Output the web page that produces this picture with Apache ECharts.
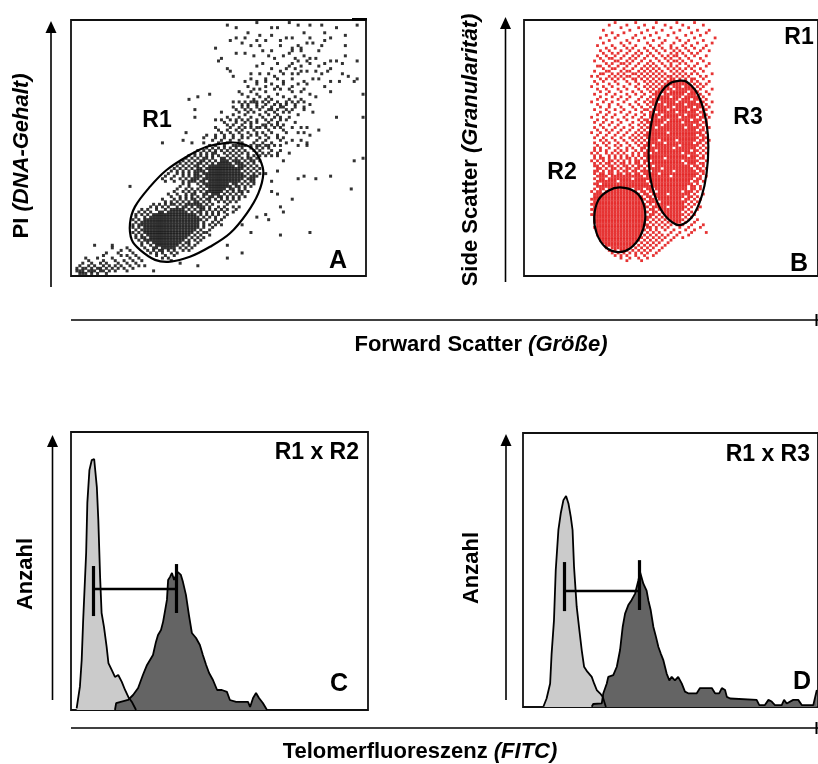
<!DOCTYPE html>
<html>
<head>
<meta charset="utf-8">
<script src="https://cdn.jsdelivr.net/npm/echarts@6/dist/echarts.min.js"></script>
<style>
  html, body { margin: 0; padding: 0; background: #fff; }
  #chart { width: 818px; height: 764px; }
</style>
</head>
<body>
<div id="chart"></div>
<script>
// ---------- Data ----------
// Dot plots: events listed row by row as [channel y, "channel x values"] on a 0-100 channel scale.

// A: PI (DNA content) vs forward scatter
const dotRowsA = [
  [99, "63 74"],
  [98, "53 77 81 85 97"],
  [97, "56 68 70 90"],
  [95, "60 79 86"],
  [94, "64 68 93"],
  [93, "56 59 73 75 81 88"],
  [92, "54 63 66 71 86"],
  [91, "58 80 82"],
  [90, "61 64 71 77 85 93"],
  [89, "49 75 78"],
  [88, "65 68 75 78 84"],
  [87, "56 59 74"],
  [86, "62 67 72 79 93"],
  [85, "51 69 76 81 83"],
  [84, "50 77 80 88 90 97"],
  [83, "65 70 75 81 86 92"],
  [82, "63 74 78 84"],
  [81, "53 68 73 76 88"],
  [80, "54 71 78 80 83 87"],
  [79, "61 64 67 72 75 77 85 92"],
  [78, "55 69 94"],
  [77, "61 66 70 75 82 84 97"],
  [76, "59 63 66 72 79 88 91 96"],
  [75, "63 68 72 77 80"],
  [74, "60 66 70 75 86"],
  [73, "62 64 69 71 74 79"],
  [72, "57 61 66 75 78 88"],
  [71, "47 58 63 70 81 99"],
  [70, "43 60 64 67 72 76 83"],
  [69, "40 62 66 68 74 78"],
  [68, "55 57 59 61 62 63 65 67 70 73 75 77 79"],
  [67, "58 60 63 66 69 71 73 76 81"],
  [66, "55 58 60 63 65 68 71 72 76 79"],
  [65, "42 56 59 61 64 67 68 70 73 75 79"],
  [64, "51 57 60 62 66 69 72 74 82"],
  [63, "55 59 64 67 70 77"],
  [62, "42 53 57 61 65 69 71 74 90 99"],
  [61, "49 51 54 56 58 60 63 66 68 71 73"],
  [60, "52 56 59 61 63 67 70 76"],
  [59, "53 55 58 61 65 66 68 70 72"],
  [58, "49 54 57 59 61 63 64 66 69 71 75 78 80"],
  [57, "50 53 56 58 62 67 72 84"],
  [56, "39 51 54 57 60 63 65 68 73 77 79"],
  [55, "46 49 52 55 58 61 63 66 70 81"],
  [54, "45 49 52 55 58 60 64 67 70 72"],
  [53, "38 48 51 54 57 63 66 71 75 78"],
  [52, "31 41 45 50 53 58 62 65 68 73 80"],
  [51, "47 49 52 55 56 57 58 59 61 63 64 66 67 69 71 77 80"],
  [50, "46 48 50 52 54 56 58 61 63 65 67"],
  [49, "43 45 47 49 51 53 55 57 59 62 64 68 71"],
  [48, "42 44 46 48 49 52 54 56 58 60 63 65 67 70 74"],
  [47, "40 42 44 46 48 50 53 55 57 60 62 64 66 68 70"],
  [46, "39 41 43 45 46 48 51 52 54 56 58 60 61 63 99"],
  [45, "38 40 42 44 45 47 49 51 52 53 55 56 57 59 61 62 64 72 96"],
  [44, "37 39 41 43 44 46 48 50 51 52 53 54 56 57 58 60 62"],
  [43, "36 38 40 42 43 45 47 48 49 50 51 52 53 54 55 57 58 59 61 63"],
  [42, "35 37 39 41 43 44 46 47 48 49 50 51 52 53 54 55 56 57 58 60 62 64"],
  [41, "34 36 38 40 42 43 44 45 47 48 49 50 51 52 53 54 55 56 57 59 61 63 70"],
  [40, "33 36 38 40 42 43 45 46 47 48 49 50 51 52 53 54 55 56 57 58 60 62 64 66"],
  [39, "32 35 38 40 42 43 44 46 47 48 49 50 51 52 53 54 55 56 57 58 59 61 62 63 79 88"],
  [38, "31 34 37 39 41 42 43 45 46 47 48 49 50 51 52 53 54 55 56 57 58 60 61 62 77 83"],
  [37, "32 35 38 40 41 42 44 45 47 48 49 50 51 52 53 54 55 56 57 59 61 62 68"],
  [36, "38 40 43 45 46 47 48 49 50 51 52 53 55 56 58 60 62"],
  [35, "20 37 40 44 46 47 48 49 50 51 52 53 54 56 57 59 61"],
  [34, "36 39 41 43 45 47 48 49 50 51 52 54 55 57 59 95"],
  [33, "35 38 40 42 44 46 47 48 49 50 51 53 55 57 58 60 68"],
  [32, "33 36 39 41 42 45 46 48 49 50 52 54 56 58 70"],
  [31, "34 37 39 41 43 45 47 48 50 51 53 55 57 59"],
  [30, "31 35 37 39 41 42 44 46 47 49 51 53 55 57 75"],
  [29, "32 34 36 38 40 42 43 45 47 50 52 54 56"],
  [28, "28 30 32 34 35 37 39 40 41 42 43 44 46 48 53"],
  [27, "27 29 31 33 36 38 39 41 43 44 45 47 50 52 55 57 71"],
  [26, "24 26 29 32 34 35 36 37 38 40 42 44 45 47 49 51 53 56"],
  [25, "23 25 27 30 31 33 34 35 36 37 38 39 41 43 44 46 48 50 52 55 72"],
  [24, "22 24 26 28 29 30 31 32 33 34 35 36 37 38 39 40 41 42 44 46 48 50 53 66"],
  [23, "22 25 27 28 29 30 31 32 33 34 35 36 37 38 39 40 41 42 43 45 47 49 52 63"],
  [22, "21 23 25 26 27 28 29 30 31 32 33 34 35 36 37 38 39 40 41 42 43 44 46 49 51 67"],
  [21, "22 24 25 26 27 28 29 30 31 32 33 34 35 36 37 38 39 40 41 42 43 45 48 50"],
  [20, "21 23 24 25 26 27 28 29 30 31 32 33 34 35 36 37 38 39 40 41 42 43 45 47 49 51 58"],
  [19, "21 23 25 26 27 28 29 30 31 32 33 34 35 36 37 38 39 40 41 42 43 45 48"],
  [18, "22 24 25 26 27 28 29 30 31 32 33 34 35 36 37 38 39 40 41 42 44 47"],
  [17, "21 23 25 26 27 28 29 30 31 32 33 34 35 36 37 38 39 40 41 43 45 46 61 81"],
  [16, "22 24 26 27 28 29 30 31 32 33 34 35 36 37 38 39 40 42 44 47 71"],
  [15, "22 24 25 27 28 29 30 31 32 33 34 35 36 37 38 39 41 43 45"],
  [14, "23 25 26 27 28 29 30 31 32 33 34 35 36 37 38 40 42 44"],
  [13, "24 26 28 29 30 31 32 33 34 35 36 37 39 40 43"],
  [12, "8 14 24 27 29 30 31 32 33 34 35 36 38 40 42 53"],
  [11, "14 19 25 28 29 31 32 33 34 35 37 39 41"],
  [10, "17 20 26 28 30 31 33 35 38 40"],
  [9, "12 16 21 27 29 31 34 36 58"],
  [8, "11 17 19 22 29 32 35"],
  [7, "5 9 14 20 23 31 33 53"],
  [6, "6 11 15 18 21 24 34"],
  [5, "4 7 10 12 16 19 22 37"],
  [4, "3 6 8 11 13 15 17 20 23 25 43"],
  [3, "2 4 5 7 9 10 12 14 16 18 21"],
  [2, "2 3 4 6 7 8 10 11 13 15 19 28"],
  [1, "3 4 5 7 9 12"]
];

// B: side scatter vs forward scatter of the R1 events
const dotRowsB = [
  [99, "31 38 45 52 58"],
  [98, "29 35 41 48 54 61"],
  [97, "33 39 44 50 56"],
  [96, "27 36 42 47 53 59 63"],
  [95, "30 34 40 45 51 57 62"],
  [94, "28 32 38 43 49 55 60"],
  [93, "26 31 37 41 46 52 58 65"],
  [92, "29 35 39 44 48 53 56 61"],
  [91, "27 33 36 42 47 51 55 59 64"],
  [90, "25 30 34 38 43 46 50 54 57 62"],
  [89, "28 31 35 37 41 44 47 50 52 55 58 61"],
  [88, "26 29 33 36 39 42 45 48 51 53 56 60 63"],
  [87, "27 30 32 35 38 40 43 46 50 52 54 57 59"],
  [86, "25 28 31 34 37 39 42 44 47 49 51 52 55 58 62"],
  [85, "26 29 30 33 36 38 41 45 48 50 53 56 60"],
  [84, "24 27 31 32 35 37 40 43 46 49 51 52 54 57 61"],
  [83, "28 30 33 34 36 39 42 44 47 50 53 55 59 63"],
  [82, "25 26 29 32 35 38 41 43 45 48 50 52 56 58 62"],
  [81, "27 30 31 34 37 40 42 44 46 49 51 53 55 57 60"],
  [80, "24 28 29 33 35 36 39 41 43 45 47 50 52 54 58 61"],
  [79, "26 27 30 32 34 37 38 40 42 44 46 48 51 53 55 57 59 64"],
  [78, "23 25 29 31 33 35 36 39 41 43 45 47 49 50 52 54 56 60 62"],
  [77, "26 28 30 32 34 37 38 40 42 44 46 48 50 51 53 55 57 58 61"],
  [76, "24 27 31 35 38 41 43 45 47 49 50 51 52 53 54 55 57 59 63"],
  [75, "25 29 32 36 39 42 44 46 48 49 50 51 52 53 54 55 56 58 60 62"],
  [74, "23 27 30 34 38 41 43 45 47 48 49 51 52 53 55 56 57 59 61"],
  [73, "25 28 32 35 39 42 44 46 47 48 49 50 52 53 54 55 56 57 58 60 64"],
  [72, "26 29 33 37 40 43 45 46 47 48 50 51 52 53 54 55 57 58 59 62"],
  [71, "24 28 31 35 38 41 44 45 46 48 49 50 51 52 53 54 56 57 58 60 63"],
  [70, "26 30 33 36 40 43 45 46 47 48 49 51 52 53 55 56 57 58 59 61"],
  [69, "25 28 32 35 39 42 44 45 46 47 48 49 50 51 52 54 55 56 58 59 60 62"],
  [68, "23 27 30 34 38 41 43 44 45 47 48 49 50 51 53 54 55 56 57 58 60 61 64"],
  [67, "25 29 32 36 39 42 44 45 46 47 49 50 51 52 53 54 56 57 58 59 60 62"],
  [66, "26 29 33 37 40 43 45 46 47 48 49 50 52 53 54 55 56 57 59 60 61 63"],
  [65, "24 28 31 34 38 41 42 44 45 46 47 48 50 51 52 53 54 55 57 58 59 61 62"],
  [64, "26 29 33 36 40 43 44 46 47 48 49 50 51 53 54 55 56 57 58 60 61 64"],
  [63, "25 28 31 35 38 41 43 44 45 46 48 49 50 51 52 53 54 56 57 58 59 61 62"],
  [62, "23 27 30 34 37 40 43 44 45 47 48 49 50 51 52 54 55 56 57 58 60 61 63"],
  [61, "25 28 32 35 39 41 42 44 45 46 47 48 50 51 52 53 54 55 56 58 59 60 62"],
  [60, "24 27 30 33 37 40 42 43 44 45 46 47 49 50 51 52 53 55 56 57 58 59 61 62"],
  [59, "26 29 32 36 39 41 43 44 45 46 48 49 50 51 52 53 54 55 56 57 59 60 62"],
  [58, "24 27 31 34 37 40 42 43 44 46 47 48 49 50 51 52 53 54 56 57 58 59 61 63"],
  [57, "25 28 30 33 36 39 41 43 44 45 46 47 48 49 50 51 52 53 54 55 56 57 58 60 61"],
  [56, "23 26 29 32 35 38 40 42 43 44 45 46 47 48 50 51 52 53 54 55 56 57 58 59 60 62"],
  [55, "25 28 31 34 37 39 41 42 43 44 45 46 47 48 49 50 51 52 53 54 55 56 57 58 60 61"],
  [54, "24 27 30 33 36 38 40 42 43 44 45 46 47 48 49 50 51 52 53 54 55 56 57 58 59 61 62"],
  [53, "26 28 31 34 37 39 41 43 44 45 47 48 49 50 51 53 54 55 56 57 58 60 61 63"],
  [52, "24 27 29 32 35 38 40 42 43 44 45 46 47 49 50 51 52 53 54 55 56 57 59 60 62"],
  [51, "25 28 31 33 36 39 41 42 43 45 46 47 48 49 50 51 52 54 55 56 57 58 59 61"],
  [50, "24 26 29 32 35 37 40 41 43 44 45 46 47 48 49 50 52 53 54 55 56 57 58 60 62"],
  [49, "24 26 28 31 33 35 38 40 42 43 44 46 47 48 49 50 51 52 53 54 55 56 58 59 61"],
  [48, "23 25 28 30 32 34 37 39 41 42 44 45 46 47 48 49 50 51 52 53 55 56 57 58 60 62"],
  [47, "24 26 29 31 33 35 37 39 41 42 43 44 45 46 47 48 49 50 51 52 53 54 55 57 58 59 61"],
  [46, "24 26 27 29 31 33 35 36 38 40 42 43 44 45 46 47 49 50 51 52 53 54 55 56 57 58 60 61"],
  [45, "23 25 27 29 30 32 34 36 38 39 41 42 44 45 46 47 48 49 50 51 52 53 55 56 57 58 59 62"],
  [44, "24 26 28 29 31 33 34 36 38 39 41 43 44 45 46 47 48 49 50 51 52 53 54 56 57 58 60 61"],
  [43, "24 25 27 29 30 32 34 35 37 39 40 42 43 45 46 47 48 49 50 51 52 53 54 55 56 58 59 61"],
  [42, "25 26 28 30 31 33 35 36 38 39 41 43 44 45 46 48 49 50 51 52 53 54 55 56 57 59 60 62"],
  [41, "24 25 27 29 30 32 34 35 37 38 40 41 42 44 45 46 47 48 49 50 52 53 54 55 56 57 58 60 61"],
  [40, "24 26 27 29 30 32 33 35 36 38 39 41 42 43 44 45 47 48 49 50 51 52 53 54 55 56 57 58 59 61"],
  [39, "25 26 27 28 30 31 32 33 34 35 36 37 38 39 40 42 43 44 45 46 47 48 49 51 52 53 54 55 56 57 58 60 62"],
  [38, "24 26 27 29 30 31 32 33 34 35 36 38 39 40 41 42 43 44 45 46 47 48 49 50 51 52 53 54 55 56 57 59 60"],
  [37, "25 26 27 28 29 30 31 33 34 35 36 37 38 39 40 41 43 44 45 46 47 48 49 50 51 52 53 54 55 56 58 59 61"],
  [36, "24 25 27 28 29 30 31 32 33 34 35 36 37 38 39 40 41 42 44 45 46 47 48 49 50 51 52 53 54 55 56 57 59"],
  [35, "25 26 27 28 29 30 31 32 33 34 35 36 37 38 39 40 41 42 43 44 45 46 47 48 49 50 51 52 53 54 55 57 58 60"],
  [34, "24 26 27 29 30 31 32 33 34 35 36 38 39 40 42 43 45 46 47 48 49 50 51 52 53 54 55 57 58 60"],
  [33, "23 25 26 28 29 30 31 32 33 34 35 36 37 38 40 41 43 44 46 47 48 49 50 51 52 53 55 56 57 59"],
  [32, "24 25 26 27 28 29 30 31 32 33 34 35 36 37 38 39 41 42 44 45 46 47 48 50 51 52 53 54 55 56 58 61"],
  [31, "24 25 26 27 28 29 30 31 32 33 34 35 36 37 38 39 40 42 43 45 46 47 48 49 50 51 52 53 54 56 57 59"],
  [30, "23 24 25 26 27 28 29 30 31 32 33 34 35 36 37 38 39 40 41 43 44 46 47 48 49 50 51 52 53 55 56 58 60"],
  [29, "24 25 26 27 28 29 30 31 32 33 34 35 36 37 38 39 40 42 43 44 45 47 48 49 50 51 52 53 54 55 57 59"],
  [28, "23 24 25 26 27 28 29 30 31 32 33 34 35 36 37 38 39 40 41 43 45 46 47 48 49 50 51 52 53 54 56 58"],
  [27, "24 25 26 27 28 29 30 31 32 33 34 35 36 37 38 39 40 41 42 44 45 46 47 48 50 51 52 53 54 55 57 60"],
  [26, "23 24 25 26 27 28 29 30 31 32 33 34 35 36 37 38 39 40 41 43 44 46 47 48 49 50 51 52 53 54 56 59"],
  [25, "24 25 26 27 28 29 30 31 32 33 34 35 36 37 38 39 40 41 42 44 45 47 48 49 50 51 52 53 55 57"],
  [24, "23 24 25 26 27 28 29 30 31 32 33 34 35 36 37 38 39 40 41 43 44 46 48 49 50 51 52 53 54 56 58"],
  [23, "24 25 26 27 28 29 30 31 32 33 34 35 36 37 38 39 40 41 42 43 45 47 49 50 51 52 53 55 57"],
  [22, "24 25 26 27 28 29 30 31 32 33 34 35 36 37 38 39 40 41 42 44 46 48 50 51 52 53 54 56 59"],
  [21, "24 25 26 27 28 29 30 31 32 33 34 35 36 37 38 39 40 41 43 45 47 49 51 52 53 55 58"],
  [20, "25 26 27 28 29 30 31 32 33 34 35 36 37 38 39 40 41 42 44 46 48 50 52 54 57 61"],
  [19, "24 25 26 27 28 29 30 31 32 33 34 35 36 37 38 39 40 42 43 45 47 49 53 56 60"],
  [18, "25 26 27 28 29 30 31 32 33 34 35 36 37 38 39 40 41 43 45 48 51 55 58"],
  [17, "25 26 27 28 29 30 31 32 33 34 35 36 37 38 39 40 42 44 46 50 53 57 62"],
  [16, "25 26 27 28 29 30 31 32 33 34 35 36 37 38 39 41 43 45 47 49 52 56"],
  [15, "26 27 28 29 30 31 32 33 34 35 36 37 38 39 40 42 44 46 48 51 54"],
  [14, "26 27 28 29 30 31 32 33 34 35 36 37 38 39 41 43 45 47 50"],
  [13, "27 28 29 30 31 32 33 34 35 36 37 38 40 42 44 46 49"],
  [12, "28 29 30 31 32 33 34 35 36 37 39 41 43 45 48"],
  [11, "28 30 31 32 33 34 35 36 38 40 42 44 47"],
  [10, "29 31 33 34 35 37 39 41 43 46"],
  [9, "30 32 34 36 38 40 42 45"],
  [8, "31 33 35 38 41 44"],
  [7, "33 36 39 42"],
  [6, "35 40"]
];

// Gate outlines (vertices in channel units)
const gateR1 = [[53.9,52.1],[46,50.5],[39.2,46.6],[32.4,41.4],[26.8,34.9],[21.7,27.1],[20,20.6],[20.6,14.1],
  [23.4,10.2],[28.5,6.3],[33.6,5.6],[40.3,7.5],[47.1,11.4],[53.9,16.7],[59.6,24.5],[63.5,32.3],[65.2,40.1],
  [64.1,45.3],[61.3,49.9],[57.3,51.8]];
const gateR2 = [[32.7,34.6],[28.7,33.3],[25.3,29.7],[23.9,23.2],[24.7,16.7],[27.6,11.4],[32.1,9.3],
  [36.1,10.8],[39.5,15.4],[41.2,21.9],[40.6,28.4],[37.8,32.9]];
const gateR3 = [[53.1,76.3],[49.7,75.3],[46.8,72],[44.6,66.1],[43.1,58.3],[42.4,49.2],[42.9,38.8],[44.6,31],
  [47.4,24.5],[51.4,20.3],[54.2,20.3],[57.6,23.8],[60.4,31],[62.1,40.1],[62.7,50.5],[62.1,59.6],[60.4,67.5],
  [58.2,72.7],[55.3,75.9]];

// Telomere fluorescence histograms: [channel, relative count]
const histC_control = [[1.9,0.6],[3.0,8.4],[3.6,18],[4.1,32.4],[5.1,56.5],[5.5,74.5],[6.2,86.3],[7.0,89.9],
  [7.8,90.3],[8.7,80.2],[9.2,68.3],[9.8,47.8],[10.3,34.9],[11.1,29.9],[12.0,22.7],[12.6,16.9],[13.7,14.4],
  [14.8,11.9],[15.9,12.6],[17.1,10.1],[18.2,7.2],[19.3,4.7],[20.5,2.9],[21.9,0]];
const histC_probe = [[14.8,0],[15.2,2.5],[19.2,3.6],[20.9,5.4],[22.6,7.9],[24.2,12.6],[25.6,16.2],[26.6,18.0],
  [27.6,19.8],[28.6,24.5],[29.3,27],[30.3,28.8],[31.0,31.7],[31.6,35.3],[32.3,39.6],[32.7,46.8],[33.3,47.8],
  [34.0,49.3],[34.7,46.8],[35.4,48.6],[36.0,49.6],[37.0,48.6],[37.7,46],[38.7,41.4],[39.7,34.2],[40.7,27.7],
  [42.1,25.9],[43.4,23.4],[44.4,19.8],[45.5,16.2],[46.5,13.3],[47.8,10.8],[49.2,7.2],[50.8,7.2],[52.5,6.5],
  [53.5,3.6],[55.6,2.9],[59.6,2.9],[60.3,1.1],[61.3,4.3],[62.3,6.1],[63.3,4.3],[64.6,2.5],[66.0,0]];
const histD_control = [[6.9,0.1],[8.0,3.1],[9.2,8.6],[9.7,19.5],[10.5,31.6],[11.1,50],[12.0,64.6],[12.8,70.7],
  [13.7,75.5],[14.6,77],[15.4,74.3],[16.2,69.4],[16.8,64.6],[17.3,51.2],[18.2,36.6],[19.1,28.1],[19.9,20.8],
  [20.7,14.7],[21.8,12.9],[23.3,11],[24.1,8.6],[25.0,6.2],[26.1,5],[27.0,3.8],[28.1,0]];
const histD_probe = [[23.3,0.1],[23.8,1.1],[26.7,1.3],[27.2,4.9],[28.4,8.6],[28.9,11],[30.6,11.6],[31.8,14.7],
  [32.9,20.8],[33.8,29.3],[34.6,34.1],[35.7,37.2],[36.8,39],[38.0,41.4],[39.1,46.2],[39.7,49.2],[40.8,45],
  [41.9,42.5],[42.5,38.9],[43.3,35.3],[44.2,29.2],[45.1,25.5],[45.9,21.9],[46.7,19.5],[47.6,17],[48.7,12.2],
  [49.6,9.7],[50.4,11],[51.5,9.7],[52.6,11],[53.8,8.6],[54.9,5.6],[56.0,5],[58.9,5],[60.0,6.9],[64.0,6.9],
  [65.1,5],[66.5,5],[67.4,6.9],[68.5,6.2],[69.1,3.7],[70.2,3.1],[79.2,2.6],[80.1,0.7],[82.0,0.7],[83.2,2.6],
  [84.3,2],[85.4,0.7],[87.7,0.7],[88.5,2.6],[89.4,1.3],[91.6,2.6],[93.3,2.6],[94.5,0.7],[98.4,0.7],[99.6,6.2]];

// Distance markers between control peak and probe peak
const markerC = { x1: 7.4, x2: 35.4, y: 43.5, tick1: [33.8, 51.8], tick2: [34.9, 52.5] };
const markerD = { x1: 13.9, x2: 39.3, y: 42.3, tick1: [35.0, 52.9], tick2: [35.4, 53.6] };

// ---------- Helpers ----------
function expandRows(rows) {
  const pts = [];
  rows.forEach(([y, xs]) => xs.trim().split(/\s+/).forEach(x => pts.push([+x, y])));
  return pts;
}

const FONT = '"Liberation Sans", Arial, Helvetica, sans-serif';
const INK = '#000';

const gridBoxes = [
  { left: 71, top: 20, width: 295, height: 256 },
  { left: 524, top: 20, width: 295, height: 256 },
  { left: 71, top: 432, width: 297, height: 278 },
  { left: 523, top: 433, width: 296, height: 274 }
];

function gateSeries(idx, pts) {
  return {
    type: 'custom', xAxisIndex: idx, yAxisIndex: idx, silent: true, z: 5,
    data: [pts[0]],
    renderItem: (params, api) => ({
      type: 'polygon',
      shape: { points: pts.map(p => api.coord(p)), smooth: 0.35 },
      style: { fill: 'transparent', stroke: INK, lineWidth: 2.2 }
    })
  };
}

function histSeries(idx, data, fill) {
  return {
    type: 'line', xAxisIndex: idx, yAxisIndex: idx, data, silent: true,
    symbol: 'none', smooth: false,
    lineStyle: { color: '#000', width: 1.8 },
    areaStyle: { color: fill, opacity: 1 }
  };
}

function markerSeries(idx, m) {
  return {
    type: 'lines', coordinateSystem: 'cartesian2d', xAxisIndex: idx, yAxisIndex: idx, silent: true, z: 6,
    lineStyle: { color: INK, opacity: 1, curveness: 0 },
    data: [
      { coords: [[m.x1, m.y], [m.x2, m.y]], lineStyle: { width: 2.4 } },
      { coords: [[m.x1, m.tick1[0]], [m.x1, m.tick1[1]]], lineStyle: { width: 3.2 } },
      { coords: [[m.x2, m.tick2[0]], [m.x2, m.tick2[1]]], lineStyle: { width: 3.2 } }
    ]
  };
}

function label(text, x, y, size, align) {
  return {
    type: 'text', x, y, silent: true, z: 20,
    style: {
      text, fill: INK, font: 'bold ' + size + 'px ' + FONT,
      align: align || 'center', verticalAlign: 'middle',
      textAlign: align || 'center', textVerticalAlign: 'middle'
    }
  };
}

function axisTitle(plain, italic, x, y, vertical) {
  return {
    type: 'text', x, y, rotation: vertical ? Math.PI / 2 : 0, silent: true, z: 20,
    style: {
      text: '{b|' + plain + '}{i|' + italic + '}',
      align: 'center', verticalAlign: 'middle', textAlign: 'center', textVerticalAlign: 'middle',
      rich: {
        b: { fontFamily: FONT, fontWeight: 'bold', fontSize: 22, fill: INK, color: INK },
        i: { fontFamily: FONT, fontWeight: 'bold', fontStyle: 'italic', fontSize: 22, fill: INK, color: INK }
      }
    }
  };
}

function upArrow(x, yBottom, yTip) {
  return [
    { type: 'line', silent: true, shape: { x1: x, y1: yBottom, x2: x, y2: yTip + 10 }, style: { stroke: INK, lineWidth: 1.6 } },
    { type: 'polygon', silent: true, shape: { points: [[x, yTip], [x - 5.5, yTip + 12], [x + 5.5, yTip + 12]] }, style: { fill: INK } }
  ];
}

function hAxisLine(y) {
  return [
    { type: 'line', silent: true, shape: { x1: 71, y1: y, x2: 818, y2: y }, style: { stroke: INK, lineWidth: 1.6 } },
    { type: 'line', silent: true, shape: { x1: 816.5, y1: y - 6, x2: 816.5, y2: y + 6 }, style: { stroke: INK, lineWidth: 2 } }
  ];
}

// ---------- Chart ----------
const chart = echarts.init(document.getElementById('chart'), null, { renderer: 'canvas' });

const option = {
  animation: false,
  backgroundColor: '#fff',
  grid: gridBoxes.map(g => Object.assign({ show: true, borderColor: '#111', borderWidth: 1.8, backgroundColor: '#fff', containLabel: false }, g)),
  xAxis: gridBoxes.map((g, i) => ({ gridIndex: i, type: 'value', min: 0, max: 100, show: false })),
  yAxis: gridBoxes.map((g, i) => ({ gridIndex: i, type: 'value', min: 0, max: 100, show: false })),
  series: [
    {
      type: 'scatter', xAxisIndex: 0, yAxisIndex: 0, silent: true,
      data: expandRows(dotRowsA), symbol: 'rect', symbolSize: 3,
      itemStyle: { color: '#000' }
    },
    gateSeries(0, gateR1),
    {
      type: 'scatter', xAxisIndex: 1, yAxisIndex: 1, silent: true,
      data: expandRows(dotRowsB), symbol: 'rect', symbolSize: 2.8,
      itemStyle: { color: '#e00000' }
    },
    gateSeries(1, gateR2),
    gateSeries(1, gateR3),
    histSeries(2, histC_control, '#cbcbcb'),
    histSeries(2, histC_probe, '#646464'),
    markerSeries(2, markerC),
    histSeries(3, histD_control, '#cbcbcb'),
    histSeries(3, histD_probe, '#646464'),
    markerSeries(3, markerD)
  ],
  graphic: [
    ...upArrow(51, 287, 21),
    ...upArrow(505.5, 282, 17),
    ...upArrow(52.5, 700, 435),
    ...upArrow(506, 700, 434),
    ...hAxisLine(320),
    ...hAxisLine(728),
    { type: 'rect', silent: true, shape: { x: 352, y: 18, width: 15, height: 2.5 }, style: { fill: INK } },
    axisTitle('PI ', '(DNA-Gehalt)', 22, 156, true),
    axisTitle('Side Scatter ', '(Granularität)', 471, 150, true),
    axisTitle('Forward Scatter ', '(Größe)', 481, 345, false),
    axisTitle('Anzahl', '', 26, 574, true),
    axisTitle('Anzahl', '', 472, 568, true),
    axisTitle('Telomerfluoreszenz ', '(FITC)', 420, 752, false),
    label('R1', 157, 121, 23),
    label('A', 338, 261, 25),
    label('R1', 799, 38, 23),
    label('R3', 748, 118, 23),
    label('R2', 562, 173, 23),
    label('B', 799, 264, 25),
    label('R1 x R2', 359, 453, 23, 'right'),
    label('C', 339, 684, 25),
    label('R1 x R3', 810, 455, 23, 'right'),
    label('D', 802, 682, 25)
  ]
};

chart.setOption(option);
</script>
</body>
</html>
